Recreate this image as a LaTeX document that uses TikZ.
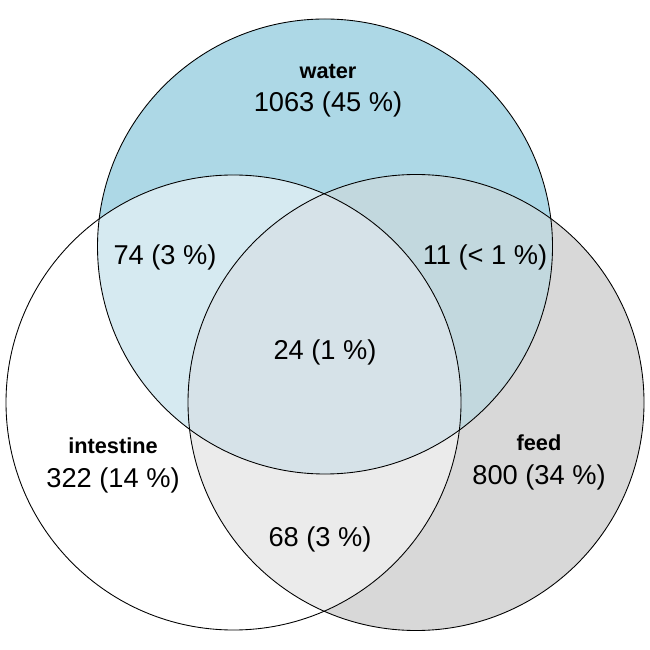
\documentclass[tikz,border=0pt]{standalone}
\usepackage{fontspec}
\setmainfont{Liberation Sans}
\definecolor{cW}{HTML}{ADD8E6}
\definecolor{cF}{HTML}{D8D8D8}
\definecolor{cWF}{HTML}{C2D8DE}
\definecolor{cWI}{HTML}{D6EAF1}
\definecolor{cIF}{HTML}{EBEBEB}
\definecolor{cWIF}{HTML}{D6E2E8}
\tikzset{
  num/.style={font=\fontsize{10.9}{12}\selectfont, inner sep=0pt},
  setname/.style={font=\bfseries\fontsize{8.7}{10}\selectfont, inner sep=0pt},
  outline/.style={draw=black, line width=0.35pt}
}
\begin{document}
\begin{tikzpicture}[x=0.4pt, y=-0.4pt]
\useasboundingbox (0,0) rectangle (650,650);
\def\W{(325,246.5) circle[radius=91pt]}
\def\I{(233.5,402.5) circle[radius=91pt]}
\def\F{(416,402.5) circle[radius=91.2pt]}
\fill[white] (0,0) rectangle (650,650);
\fill[cW] \W;
\fill[cF] \F;
\begin{scope}\clip \W; \fill[cWF] \F; \end{scope}
\fill[white] \I;
\begin{scope}\clip \I; \fill[cWI] \W; \fill[cIF] \F; \end{scope}
\begin{scope}\clip \I; \clip \W; \fill[cWIF] \F; \end{scope}
\draw[outline] \W;
\draw[outline] \I;
\draw[outline] \F;
\node[setname] (nw) at (328,72) {water};
\node[num] (vw) at (328,104) {1063 (45 \%)};
\node[setname] (ni) at (113,446) {intestine};
\node[num] (vi) at (113,480) {322 (14 \%)};
\node[setname] (nf) at (539,443) {feed};
\node[num] (vf) at (539,477) {800 (34 \%)};
\node[num] (wi) at (165,257) {74 (3 \%)};
\node[num] (wf) at (485,257) {11 (< 1 \%)};
\node[num] (wif) at (325,352) {24 (1 \%)};
\node[num] (if) at (320,539) {68 (3 \%)};
\end{tikzpicture}
\end{document}
